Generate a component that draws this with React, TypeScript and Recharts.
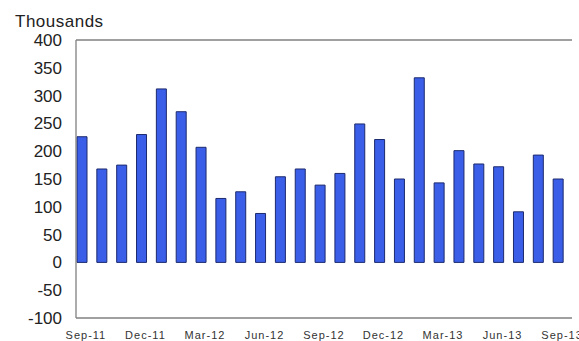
import React from "react";
import { BarChart, Bar, XAxis, YAxis, CartesianGrid } from "recharts";

const months = [
  "Sep-11", "Oct-11", "Nov-11", "Dec-11", "Jan-12", "Feb-12", "Mar-12", "Apr-12", "May-12",
  "Jun-12", "Jul-12", "Aug-12", "Sep-12", "Oct-12", "Nov-12", "Dec-12", "Jan-13", "Feb-13",
  "Mar-13", "Apr-13", "May-13", "Jun-13", "Jul-13", "Aug-13", "Sep-13",
];
const values = [
  226, 168, 175, 230, 312, 271, 207, 115, 127, 88, 154, 168, 139,
  160, 249, 221, 150, 332, 143, 201, 177, 172, 91, 193, 150,
];
const yTicks = [-100, -50, 0, 50, 100, 150, 200, 250, 300, 350, 400];

const data = months.map((m, i) => ({ month: m, value: values[i], pad: null }));

const font = "'Liberation Sans', Arial, sans-serif";

export default function App() {
  return (
    <div style={{ position: "absolute", left: 0, top: 0, width: 579, height: 341, background: "#fff" }}>
      <div
        style={{
          position: "absolute",
          left: 15,
          top: 13,
          fontFamily: font,
          fontSize: 17,
          lineHeight: 1,
          color: "#222",
          letterSpacing: 0.5,
        }}
      >
        Thousands
      </div>
      <BarChart
        width={579}
        height={341}
        data={data}
        margin={{ top: 40, right: 7, bottom: 0, left: 0 }}
        barCategoryGap={0}
        barGap={0}
      >
        <CartesianGrid vertical={false} stroke="#808080" strokeWidth={1.3} />
        <XAxis
          dataKey="month"
          interval={2}
          tickLine={false}
          axisLine={false}
          height={23}
          tickSize={6}
          tickMargin={7}
          tick={{ fontFamily: font, fontSize: 11, fill: "#333", letterSpacing: 1 }}
        />
        <YAxis
          yAxisId="left"
          domain={[-100, 400]}
          ticks={yTicks}
          interval={0}
          width={76}
          tickLine={false}
          tickSize={6}
          tickMargin={8}
          axisLine={{ stroke: "#808080", strokeWidth: 1.3 }}
          tick={{ fontFamily: font, fontSize: 17, fill: "#222" }}
        />
        <YAxis
          yAxisId="right"
          orientation="right"
          domain={[-100, 400]}
          width={0}
          tick={false}
          tickLine={false}
          axisLine={{ stroke: "#808080", strokeWidth: 1.3 }}
        />
        <Bar
          yAxisId="left"
          dataKey="value"
          barSize={10}
          fill="#3a5ee8"
          stroke="#1c2a6e"
          strokeWidth={1}
          isAnimationActive={false}
        />
        <Bar
          yAxisId="left"
          dataKey="pad"
          barSize={8}
          fill="none"
          isAnimationActive={false}
        />
      </BarChart>
    </div>
  );
}
